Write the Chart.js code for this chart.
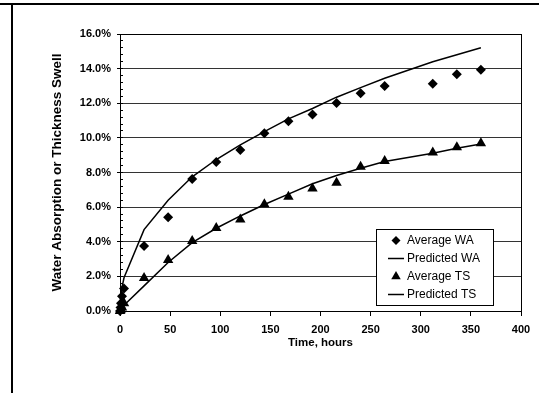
<!DOCTYPE html>
<html>
<head>
<meta charset="utf-8">
<script src="https://cdn.jsdelivr.net/npm/chart.js@4.4.1/dist/chart.umd.min.js"></script>
<style>
  html, body { margin: 0; padding: 0; background: #fff; }
  #wrap { position: relative; width: 539px; height: 393px; overflow: hidden; }
  #chart { position: absolute; left: 0; top: 0; }
  .rule-top { position: absolute; left: 0; top: 3px; width: 539px; height: 2px; background: #000; }
  .rule-left { position: absolute; left: 11px; top: 3px; width: 2px; height: 390px; background: #000; }
</style>
</head>
<body>
<div id="wrap">
  <canvas id="chart" width="539" height="393"></canvas>
  <div class="rule-top"></div>
  <div class="rule-left"></div>
</div>
<script>
// soak time, hours
const hours = [0, 0.5, 1, 2, 4, 24, 48, 72, 96, 120, 144, 168, 192, 216, 240, 264, 312, 336, 360];

// measured averages (%)
const avgWA = [0, 0.2, 0.45, 0.85, 1.3, 3.75, 5.42, 7.63, 8.6, 9.3, 10.27, 10.96, 11.35, 12.02, 12.58, 13.0, 13.12, 13.67, 13.93];
const avgTS = [0, 0.05, 0.1, 0.2, 0.45, 1.9, 2.95, 4.05, 4.79, 5.28, 6.16, 6.6, 7.07, 7.41, 8.33, 8.67, 9.16, 9.46, 9.69];

// model predictions (%)
const predWA = [0, 0.68, 0.96, 1.36, 1.92, 4.7, 6.4, 7.75, 8.75, 9.6, 10.36, 11.1, 11.7, 12.35, 12.9, 13.44, 14.4, 14.8, 15.21];
const predTS = [0.12, 0.14, 0.17, 0.22, 0.33, 1.45, 2.8, 3.95, 4.78, 5.49, 6.15, 6.75, 7.35, 7.83, 8.25, 8.63, 9.11, 9.4, 9.65];

const xTicks = [0, 50, 100, 150, 200, 250, 300, 350, 400];
const yTicks = [0, 2, 4, 6, 8, 10, 12, 14, 16];

const FONT = "'Liberation Sans', Arial, sans-serif";

function toPoints(ys) {
  return hours.map((h, i) => ({ x: h, y: ys[i] }));
}

// box round the plotting area
const plotFrame = {
  id: "plotFrame",
  afterDraw(chart) {
    const { ctx, chartArea: a } = chart;
    ctx.save();
    ctx.strokeStyle = "#000";
    ctx.lineWidth = 1;
    ctx.strokeRect(Math.round(a.left) + 0.5, Math.round(a.top) + 0.5,
      Math.round(a.right - a.left), Math.round(a.bottom - a.top));
    ctx.restore();
  },
};

// legend sits inside the plot, lower right
const insideLegend = {
  id: "insideLegend",
  afterDraw(chart) {
    const { ctx, chartArea } = chart;
    const boxW = 117, boxH = 76;
    const x0 = Math.round(chartArea.right - 28 - boxW);
    const y0 = Math.round(chartArea.bottom - 6 - boxH);
    ctx.save();
    ctx.fillStyle = "#fff";
    ctx.fillRect(x0, y0, boxW, boxH);
    ctx.strokeStyle = "#000";
    ctx.lineWidth = 1;
    ctx.strokeRect(x0 + 0.5, y0 + 0.5, boxW, boxH);
    ctx.font = "12px " + FONT;
    ctx.textBaseline = "middle";
    chart.data.datasets.forEach((ds, i) => {
      const cy = y0 + 11.5 + i * 18;
      const cx = x0 + 20;
      ctx.fillStyle = "#000";
      ctx.strokeStyle = "#000";
      if (ds.showLine) {
        ctx.beginPath();
        ctx.lineWidth = 1.5;
        ctx.moveTo(cx - 8, cy);
        ctx.lineTo(cx + 8, cy);
        ctx.stroke();
      } else {
        Chart.helpers.drawPoint(ctx, {
          pointStyle: ds.pointStyle,
          radius: ds.pointStyle === "triangle" ? 5.5 : 4.5,
          borderWidth: 0,
          rotation: 0,
        }, cx, cy);
      }
      ctx.fillStyle = "#000";
      ctx.fillText(ds.label, x0 + 31, cy);
    });
    ctx.restore();
  },
};

const ctx = document.getElementById("chart").getContext("2d");

new Chart(ctx, {
  type: "scatter",
  data: {
    datasets: [
      {
        label: "Average WA",
        data: toPoints(avgWA),
        pointStyle: "rectRot",
        pointRadius: 5,
        backgroundColor: "#000",
        borderColor: "#000",
        borderWidth: 0,
        showLine: false,
        clip: false,
      },
      {
        label: "Predicted WA",
        data: toPoints(predWA),
        showLine: true,
        pointRadius: 0,
        borderColor: "#000",
        borderWidth: 1.5,
        tension: 0,
        clip: false,
      },
      {
        label: "Average TS",
        data: toPoints(avgTS),
        pointStyle: "triangle",
        pointRadius: 6,
        backgroundColor: "#000",
        borderColor: "#000",
        borderWidth: 0,
        showLine: false,
        clip: false,
      },
      {
        label: "Predicted TS",
        data: toPoints(predTS),
        showLine: true,
        pointRadius: 0,
        borderColor: "#000",
        borderWidth: 1.5,
        tension: 0,
        clip: false,
      },
    ],
  },
  options: {
    responsive: false,
    animation: false,
    devicePixelRatio: 1,
    layout: { padding: { left: 0, top: 34, right: 18, bottom: 32 } },
    plugins: {
      legend: { display: false },
      tooltip: { enabled: false },
    },
    scales: {
      x: {
        type: "linear",
        min: 0,
        max: 400,
        afterBuildTicks: (scale) => {
          scale.ticks = xTicks.map((v) => ({ value: v }));
        },
        afterFit: (scale) => {
          scale.height = 50;
        },
        ticks: {
          color: "#000",
          padding: 7,
          font: { family: FONT, size: 11, weight: "bold" },
        },
        grid: {
          drawOnChartArea: false,
          color: "#000",
          tickLength: 5,
        },
        border: { color: "#000", width: 1 },
        title: {
          display: true,
          text: "Time, hours",
          color: "#000",
          font: { family: FONT, size: 11.5, weight: "bold" },
          padding: { top: 0, bottom: 11 },
        },
      },
      y: {
        min: 0,
        max: 16,
        weight: 0,
        afterBuildTicks: (scale) => {
          scale.ticks = yTicks.map((v) => ({ value: v }));
        },
        afterFit: (scale) => {
          scale.width = 120;
        },
        ticks: {
          color: "#000",
          padding: 6,
          font: { family: FONT, size: 11, weight: "bold" },
          callback: (v) => v.toFixed(1) + "%",
        },
        grid: {
          color: "#333",
          tickColor: "#000",
          tickLength: 3,
        },
        border: { color: "#000", width: 1 },
        title: {
          display: true,
          text: "Water Absorption or Thickness Swell",
          color: "#000",
          font: { family: FONT, size: 13.5, weight: "bold" },
          padding: { top: 49, bottom: 0 },
        },
      },
      // minor tick marks, drawn inside the left axis
      yMinor: {
        position: "left",
        min: 0,
        max: 16,
        weight: -1,
        afterFit: (scale) => {
          scale.width = 0;
        },
        ticks: { display: false, stepSize: 0.4, autoSkip: false },
        grid: {
          drawOnChartArea: false,
          color: "#000",
          tickLength: -3,
        },
        border: { display: false },
      },
    },
  },
  plugins: [plotFrame, insideLegend],
});
</script>
</body>
</html>
